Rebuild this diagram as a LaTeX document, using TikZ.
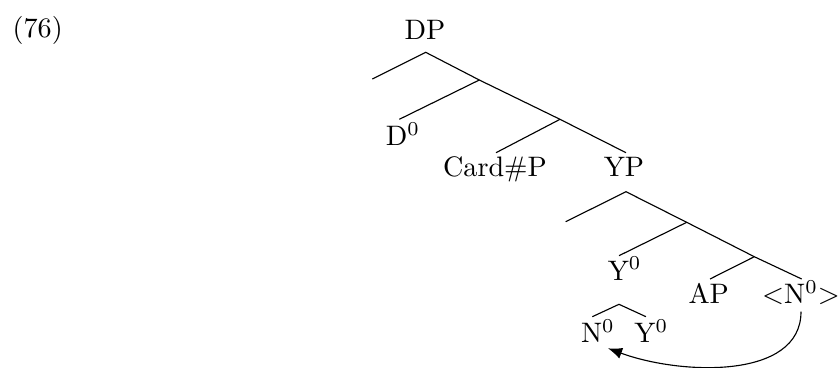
\documentclass[tikz,border=0pt]{standalone}
\usetikzlibrary{arrows.meta}
\begin{document}
\begin{tikzpicture}[x=0.355pt,y=-0.355pt,
  lbl/.style={anchor=base,inner sep=0pt,outer sep=0pt},
  branch/.style={line width=0.4pt},
  movearrow/.style={line width=0.4pt,-{Latex[length=5pt,width=4pt]}}]
\useasboundingbox (0,0) rectangle (839,367);
% example number
\node[lbl] (num) at (37.7,37.5) {(76)};
% labels
\node[lbl] (DP) at (425,39) {DP};
\node[lbl] (D0) at (403,145.7) {D$^0$};
\node[lbl] (Card) at (495,176.7) {Card\#P};
\node[lbl] (YP) at (624,176.7) {YP};
\node[lbl] (Y0) at (624.7,280) {Y$^0$};
\node[lbl] (AP) at (708.7,303.3) {AP};
\node[lbl] (Ntr) at (801,303.3) {$<$N$^0$$>$};
\node[lbl] (N0b) at (598,342.3) {N$^0$};
\node[lbl] (Y0b) at (651.3,342.3) {Y$^0$};
% branch points
\coordinate (dptop) at (425.7,52.3);
\coordinate (dpleft) at (372.3,79);
\coordinate (b0) at (479.3,80);
\coordinate (d0end) at (399.3,119.3);
\coordinate (c0) at (560,119.3);
\coordinate (cardend) at (496,152.7);
\coordinate (ypend) at (626,152.7);
\coordinate (yptop) at (626,191.7);
\coordinate (ypleft) at (565.7,221.7);
\coordinate (e0) at (686.7,222.3);
\coordinate (y0end) at (619,255.7);
\coordinate (f0) at (754.3,256.7);
\coordinate (apend) at (710,279);
\coordinate (nend) at (801.7,279);
\coordinate (sapex) at (619,304.3);
\coordinate (sleft) at (592.3,316.7);
\coordinate (sright) at (646,316.7);
\coordinate (arrstart) at (801,311.7);
\coordinate (arrend) at (608,348.3);
% DP tree
\draw[branch] (dpleft) -- (dptop) -- (b0) -- (c0) -- (ypend);
\draw[branch] (b0) -- (d0end);
\draw[branch] (c0) -- (cardend);
% YP tree
\draw[branch] (ypleft) -- (yptop) -- (e0) -- (f0) -- (nend);
\draw[branch] (e0) -- (y0end);
\draw[branch] (f0) -- (apend);
% small head tree
\draw[branch] (sleft) -- (sapex) -- (sright);
% movement arrow
\draw[movearrow] (arrstart) .. controls (801,380) and (680,375) .. (arrend);
\end{tikzpicture}
\end{document}
